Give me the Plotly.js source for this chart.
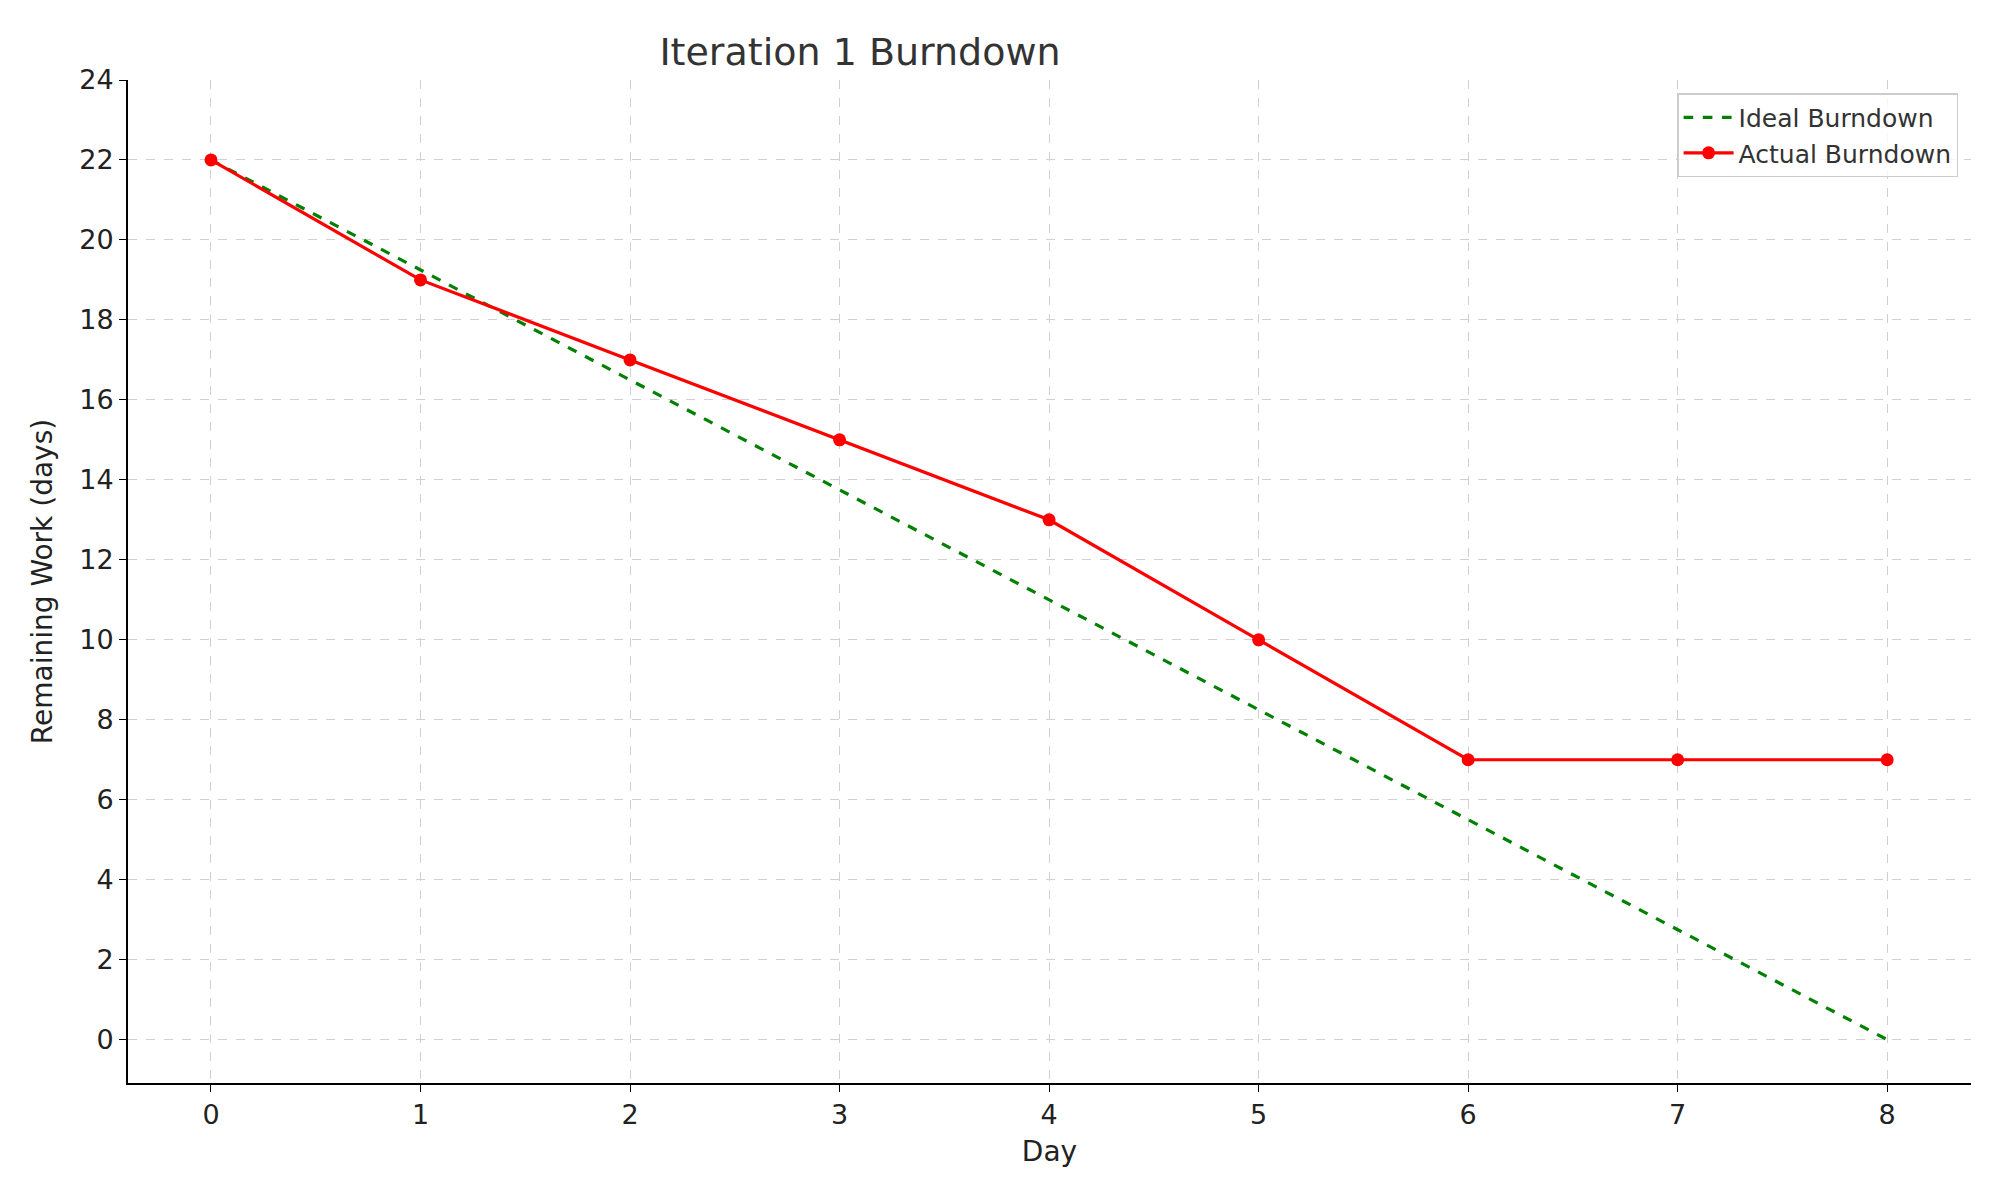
<!DOCTYPE html>
<html>
<head>
<meta charset="utf-8">
<script src="https://cdn.plot.ly/plotly-3.0.1.min.js"></script>
<style>body{margin:0;background:#fff}#chart{width:2000px;height:1200px}</style>
</head>
<body>
<div id="chart"></div>
<script>
// burndown data
const days = [0, 1, 2, 3, 4, 5, 6, 7, 8];
const idealRemaining = [22, 19.25, 16.5, 13.75, 11, 8.25, 5.5, 2.75, 0];
const actualRemaining = [22, 19, 17, 15, 13, 10, 7, 7, 7];
const yTicks = [0, 2, 4, 6, 8, 10, 12, 14, 16, 18, 20, 22, 24];

const FONT = 'DejaVu Sans, sans-serif';
const TEXT = '#222';

const traces = [
    {
        x: days, y: idealRemaining, type: 'scatter', mode: 'lines',
        name: 'Ideal Burndown',
        line: { color: 'green', width: 3.2, dash: 'dash' }
    },
    {
        x: days, y: actualRemaining, type: 'scatter', mode: 'lines+markers',
        name: 'Actual Burndown',
        line: { color: 'red', width: 3.2 },
        marker: { color: 'red', size: 13 }
    }
];

const gridAxis = {
    showgrid: true, gridcolor: '#d0d0d0', griddash: 'dash', gridwidth: 1,
    zeroline: false, showline: true, linecolor: '#000', linewidth: 2,
    ticks: 'outside', ticklen: 7, tickcolor: '#000',
    tickfont: { family: FONT, size: 27, color: TEXT }
};

const layout = {
    width: 2000, height: 1200,
    paper_bgcolor: '#fff', plot_bgcolor: '#fff',
    margin: { l: 128, r: 29, t: 80, b: 117 },
    title: {
        text: 'Iteration 1 Burndown', x: 0.43, xanchor: 'center', y: 0.968,
        font: { family: FONT, size: 38, color: '#333' }
    },
    xaxis: Object.assign({}, gridAxis, {
        range: [-0.396, 8.4], tickvals: days,
        title: { text: 'Day', font: { family: FONT, size: 28, color: TEXT }, standoff: 12 }
    }),
    yaxis: Object.assign({}, gridAxis, {
        range: [-1.085, 24], tickvals: yTicks,
        title: { text: 'Remaining Work (days)', font: { family: FONT, size: 28, color: TEXT }, standoff: 18 }
    }),
    legend: {
        x: 0.993, y: 0.987, xanchor: 'right', yanchor: 'top',
        bgcolor: 'rgba(255,255,255,0.8)', bordercolor: '#ccc', borderwidth: 1.5,
        itemwidth: 50,
        font: { family: FONT, size: 25, color: '#333' }
    },
    showlegend: true
};

Plotly.newPlot('chart', traces, layout, { displayModeBar: false, staticPlot: true });
</script>
</body>
</html>
